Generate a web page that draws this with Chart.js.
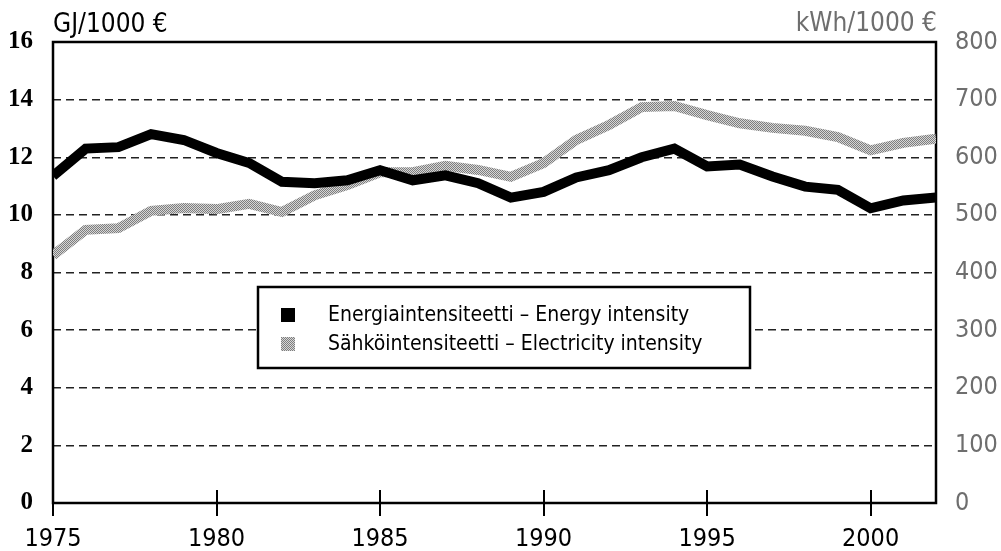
<!DOCTYPE html>
<html>
<head>
<meta charset="utf-8">
<script src="https://cdn.jsdelivr.net/npm/chart.js@4"></script>
<style>
  body { margin: 0; background: #fff; }
  #wrap { width: 1001px; height: 551px; }
</style>
</head>
<body>
<div id="wrap"><canvas id="myChart"></canvas></div>
<script>
const years = [1975, 1976, 1977, 1978, 1979, 1980, 1981, 1982, 1983, 1984, 1985, 1986, 1987, 1988,
               1989, 1990, 1991, 1992, 1993, 1994, 1995, 1996, 1997, 1998, 1999, 2000, 2001, 2002];
const energy = [11.35, 12.3, 12.35, 12.8, 12.6, 12.15, 11.8, 11.15, 11.1, 11.2, 11.55, 11.2, 11.37, 11.1,
                10.6, 10.8, 11.3, 11.55, 12.0, 12.3, 11.68, 11.75, 11.33, 10.98, 10.87, 10.23, 10.5, 10.6];
const electricity = [430, 474, 477, 507, 512, 510, 519, 505, 534, 552, 574, 574, 585, 578,
                     566, 590, 630, 656, 687, 689, 673, 659, 651, 646, 635, 612, 625, 632];
const xTickYears = [1975, 1980, 1985, 1990, 1995, 2000];
const seriesLabels = ['Energiaintensiteetti – Energy intensity', 'Sähköintensiteetti – Electricity intensity'];
const leftUnit = 'GJ/1000 €';
const rightUnit = 'kWh/1000 €';

const sans = '"DejaVu Sans Condensed", "DejaVu Sans", sans-serif';

// dithered grey like the scanned original
const pc = document.createElement('canvas');
pc.width = 2; pc.height = 2;
const pctx = pc.getContext('2d');
pctx.fillStyle = '#d6d6d6'; pctx.fillRect(0, 0, 2, 2);
pctx.fillStyle = '#7e7e7e'; pctx.fillRect(0, 0, 1, 1); pctx.fillRect(1, 1, 1, 1);
const greyPattern = pctx.createPattern(pc, 'repeat');

const extras = {
    id: 'extras',
    beforeDatasetsDraw(chart) {
        const { ctx, chartArea: a, scales } = chart;
        ctx.save();
        ctx.strokeStyle = '#000';
        ctx.lineWidth = 2.5;
        ctx.strokeRect(a.left, a.top, a.right - a.left, a.bottom - a.top);
        // x tick marks crossing the axis
        ctx.lineWidth = 2;
        scales.x.ticks.forEach(t => {
            const x = Math.round(scales.x.getPixelForValue(t.value));
            ctx.beginPath();
            ctx.moveTo(x, a.bottom - 13);
            ctx.lineTo(x, a.bottom + 13);
            ctx.stroke();
        });
        // unit labels above the axes
        ctx.textBaseline = 'alphabetic';
        ctx.font = '26px ' + sans;
        ctx.fillStyle = '#000';
        ctx.textAlign = 'left';
        ctx.fillText(leftUnit, a.left, 32);
        ctx.fillStyle = '#6e6e6e';
        ctx.textAlign = 'right';
        ctx.fillText(rightUnit, a.right + 1, 31);
        ctx.restore();
    },
    afterDatasetsDraw(chart) {
        const { ctx } = chart;
        const bx = 258, by = 287, bw = 492, bh = 81;
        ctx.save();
        ctx.fillStyle = '#fff';
        ctx.fillRect(bx, by, bw, bh);
        ctx.strokeStyle = '#000';
        ctx.lineWidth = 2.5;
        ctx.strokeRect(bx, by, bw, bh);
        ctx.font = '21px ' + sans;
        ctx.textAlign = 'left';
        ctx.textBaseline = 'middle';
        chart.data.datasets.forEach((ds, i) => {
            const cy = 315 + i * 29;
            ctx.fillStyle = ds.borderColor;
            ctx.fillRect(281, cy - 7, 14, 14);
            ctx.fillStyle = '#000';
            ctx.fillText(ds.label, 328, cy + 1);
        });
        ctx.restore();
    }
};

new Chart(document.getElementById('myChart'), {
    type: 'line',
    data: {
        datasets: [
            {
                label: seriesLabels[0],
                data: years.map((y, i) => ({ x: y, y: energy[i] })),
                borderColor: '#000',
                borderWidth: 10,
                pointRadius: 0,
                tension: 0,
                yAxisID: 'y'
            },
            {
                label: seriesLabels[1],
                data: years.map((y, i) => ({ x: y, y: electricity[i] })),
                borderColor: greyPattern,
                borderWidth: 10,
                pointRadius: 0,
                tension: 0,
                yAxisID: 'y2'
            }
        ]
    },
    options: {
        responsive: true,
        maintainAspectRatio: false,
        animation: false,
        layout: { padding: { top: 42, left: 0, right: 0, bottom: 0 } },
        plugins: {
            legend: { display: false },
            tooltip: { enabled: false }
        },
        scales: {
            x: {
                type: 'linear',
                min: 1975,
                max: 2002,
                grid: { display: false },
                border: { display: false },
                afterBuildTicks: s => { s.ticks = xTickYears.map(v => ({ value: v })); },
                afterFit: s => { s.height = 48; },
                ticks: {
                    callback: v => String(v),
                    color: '#000',
                    padding: 13,
                    maxRotation: 0,
                    autoSkip: false,
                    font: { family: sans, size: 25 }
                }
            },
            y: {
                position: 'left',
                min: 0,
                max: 16,
                afterFit: s => { s.width = 53; },
                grid: { color: '#222', lineWidth: 1.5, drawTicks: false },
                border: { display: false, dash: [8, 5] },
                ticks: {
                    stepSize: 2,
                    color: '#000',
                    padding: 20,
                    font: { family: '"Liberation Serif", serif', size: 25, weight: 'bold' }
                }
            },
            y2: {
                position: 'right',
                min: 0,
                max: 800,
                afterFit: s => { s.width = 65; },
                grid: { display: false, drawTicks: false },
                border: { display: false },
                ticks: {
                    stepSize: 100,
                    color: '#6e6e6e',
                    padding: 19,
                    font: { family: sans, size: 25 }
                }
            }
        }
    },
    plugins: [extras]
});
</script>
</body>
</html>
